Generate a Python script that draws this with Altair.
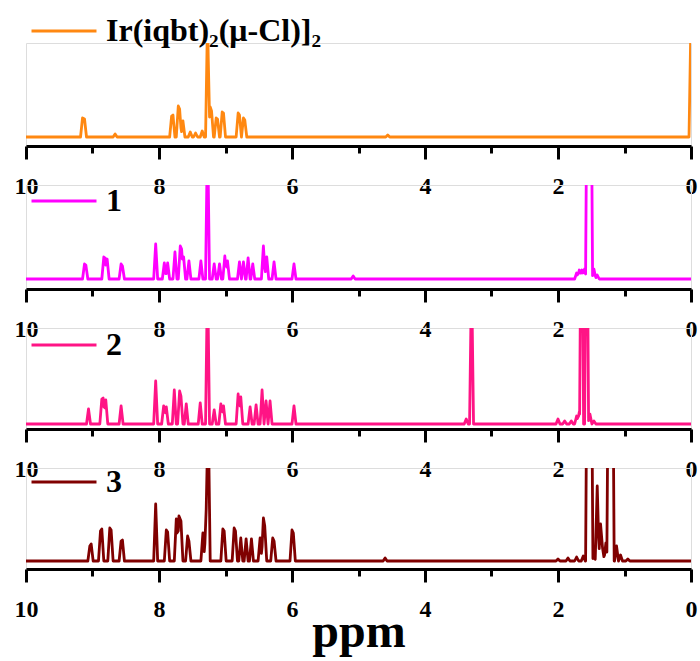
import altair as alt
import pandas as pd

# ---- data -------------------------------------------------------------
NAMES = ["Ir(iqbt)₂(μ-Cl)]₂", "1", "2", "3"]
COLORS = ["#FF8811", "#FF00FF", "#FF1485", "#800000"]

# (ppm, intensity) peak lists, intensity measured above baseline
PEAKS_DIMER = [(9.15, 19), (9.12, 18), (8.66, 3), (7.81, 21), (7.79, 22), (7.71, 31),
               (7.69, 28), (7.64, 16), (7.53, 5), (7.45, 4), (7.35, 6), (7.27, 120),
               (7.23, 30), (7.21, 26), (7.14, 19), (7.12, 18), (7.05, 25), (7.03, 24),
               (6.81, 24), (6.79, 22), (6.73, 19), (6.71, 17), (4.56, 2), (0.0, 120)]

PEAKS_1 = [(9.12, 15), (9.10, 14), (8.83, 22), (8.81, 21), (8.78, 20), (8.57, 15),
           (8.55, 13), (8.05, 35), (7.92, 16), (7.87, 16), (7.76, 27), (7.68, 33),
           (7.66, 30), (7.63, 22), (7.55, 18), (7.37, 18), (7.27, 150), (7.17, 15),
           (7.09, 15), (7.01, 23), (6.97, 18), (6.79, 17), (6.73, 17), (6.66, 21),
           (6.59, 15), (6.43, 33), (6.38, 22), (6.27, 17), (5.97, 15), (5.08, 3),
           (1.72, 6), (1.68, 9), (1.64, 9), (1.60, 10), (1.555, 300), (1.51, 300),
           (1.46, 10), (1.41, 4)]

PEAKS_2 = [(9.06, 15), (8.86, 25), (8.84, 26), (8.80, 24), (8.57, 18), (8.05, 43),
           (7.93, 18), (7.89, 17), (7.77, 34), (7.69, 33), (7.67, 28), (7.59, 20),
           (7.38, 21), (7.27, 150), (7.17, 14), (7.07, 20), (7.03, 18), (6.81, 30),
           (6.77, 27), (6.63, 17), (6.54, 19), (6.45, 34), (6.39, 23), (6.33, 23),
           (5.97, 18), (3.38, 5), (3.30, 150), (2.00, 5), (1.90, 3), (1.80, 3),
           (1.72, 8), (1.68, 12), (1.645, 300), (1.57, 300), (1.52, 10), (1.46, 3)]

PEAKS_3 = [(9.04, 15), (9.02, 17), (8.88, 30), (8.86, 32), (8.74, 33), (8.72, 31),
           (8.57, 20), (8.55, 21), (8.05, 57), (7.89, 31), (7.87, 29), (7.74, 42),
           (7.70, 45), (7.67, 40), (7.57, 25), (7.55, 20), (7.34, 28), (7.29, 52),
           (7.26, 150), (7.04, 32), (7.02, 30), (6.87, 33), (6.85, 30), (6.77, 23),
           (6.69, 22), (6.61, 22), (6.48, 23), (6.43, 43), (6.41, 35), (6.29, 23),
           (6.27, 20), (6.00, 31), (5.98, 28), (4.60, 3), (2.00, 2), (1.85, 3),
           (1.72, 4), (1.62, 5), (1.555, 300), (1.505, 300), (1.46, 5), (1.41, 75),
           (1.36, 37), (1.33, 13), (1.28, 18), (1.235, 300), (1.185, 300), (1.12, 15),
           (1.06, 6), (0.95, 2)]

ALL_PEAKS = [PEAKS_DIMER, PEAKS_1, PEAKS_2, PEAKS_3]
TICK_VALUES = [0, 1, 2, 3, 4, 5, 6, 7, 8, 9, 10]

# ---- layout / style ----------------------------------------------------
PLOT_W = 665
HEIGHTS = [103, 104, 101, 101]
Y_DOMAINS = [(-9, 94), (-10, 94), (-5, 96), (-8, 93)]
LEGEND_Y = [-30, -2, -1, -4]
HALF_WIDTH = 0.03
FONT = "Liberation Serif"


def spectrum_table(peaks, name):
    xs = {10.0, 0.0}
    for p, _ in peaks:
        xs.update([round(p - HALF_WIDTH, 4), round(p, 4), round(p + HALF_WIDTH, 4)])
    xs = sorted(x for x in xs if 0.0 <= x <= 10.0)
    rows = []
    for x in xs:
        y = 0.0
        for p, h in peaks:
            d = abs(x - p)
            if d < HALF_WIDTH:
                y = max(y, h * (1 - d / HALF_WIDTH))
        rows.append({"ppm": x, "h": y, "name": name})
    return pd.DataFrame(rows)


def panel(i):
    df = spectrum_table(ALL_PEAKS[i], NAMES[i])
    last = i == 3
    axis = alt.Axis(
        values=TICK_VALUES,
        labelExpr="datum.value % 2 === 0 ? datum.label : ''",
        tickSize={"condition": {"test": "datum.value % 2 === 1", "value": 7}, "value": 13},
        tickWidth=3, tickColor="black",
        domainWidth=3, domainColor="black",
        labelFont=FONT, labelFontSize=24, labelFontWeight="bold", labelColor="black",
        labelPadding=15, labelOverlap=False, labelFlush=False, grid=False,
        title="ppm" if last else None,
        titleFont=FONT, titleFontSize=48, titleFontWeight="bold", titleColor="black",
        titleBaseline="alphabetic", titleY=77,
    )
    return alt.Chart(df).mark_line(clip=True, strokeWidth=2.8, strokeJoin="round").encode(
        x=alt.X("ppm:Q", scale=alt.Scale(domain=[10, 0], nice=False, zero=False), axis=axis),
        y=alt.Y("h:Q", scale=alt.Scale(domain=list(Y_DOMAINS[i]), nice=False, zero=False), axis=None),
        color=alt.Color(
            "name:N",
            scale=alt.Scale(domain=[NAMES[i]], range=[COLORS[i]]),
            legend=alt.Legend(
                orient="none", legendX=20, legendY=LEGEND_Y[i], title=None,
                symbolType="M-2,0H2", symbolSize=1056, symbolStrokeWidth=3,
                labelFont=FONT, labelFontSize=32, labelFontWeight="bold",
                labelColor="black", labelLimit=600, labelOffset=24, padding=0,
            ),
        ),
    ).properties(width=PLOT_W, height=HEIGHTS[i])


chart = alt.vconcat(*[panel(i) for i in range(4)], spacing=39, bounds="flush").resolve_scale(
    x="independent", y="independent", color="independent"
).resolve_legend(color="independent").properties(
    padding={"left": 13, "top": 12, "right": 0, "bottom": 0}
).configure_view(stroke=None).configure(background="white")

chart.save("out.html", embed_options={"renderer": "svg", "actions": False})
